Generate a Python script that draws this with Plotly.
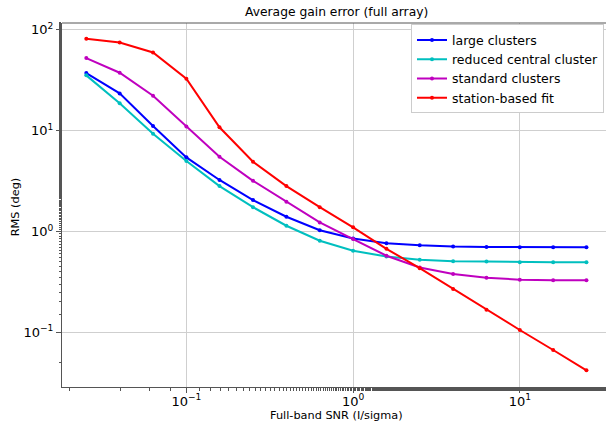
import plotly.graph_objects as go

snr = [0.0251, 0.0398, 0.0631, 0.1, 0.158, 0.251, 0.398, 0.631, 1.0,
       1.585, 2.51, 3.98, 6.31, 10.0, 15.85, 25.1]

large_clusters = [37.2, 23.4, 11.1, 5.43, 3.24, 2.05, 1.40, 1.03, 0.85,
                  0.766, 0.73, 0.71, 0.703, 0.698, 0.698, 0.698]
reduced_central = [35.3, 18.7, 9.3, 4.99, 2.82, 1.74, 1.14, 0.81, 0.643,
                   0.565, 0.524, 0.508, 0.503, 0.496, 0.496, 0.496]
standard_clusters = [52.4, 37.5, 22.2, 11.0, 5.5, 3.18, 1.97, 1.23, 0.84,
                     0.575, 0.44, 0.378, 0.347, 0.333, 0.329, 0.329]
station_fit = [81.5, 74.8, 59.6, 32.7, 10.8, 4.91, 2.82, 1.74, 1.10,
               0.673, 0.433, 0.269, 0.167, 0.1055, 0.0668, 0.042]

x_tickvals = [0.1, 1, 10]
x_ticktext = ["10<sup>−1</sup>", "10<sup>0</sup>", "10<sup>1</sup>"]
y_tickvals = [0.1, 1, 10, 100]
y_ticktext = ["10<sup>−1</sup>", "10<sup>0</sup>", "10<sup>1</sup>", "10<sup>2</sup>"]

series = [
    ("large clusters", large_clusters, "#0000ff"),
    ("reduced central cluster", reduced_central, "#00bfbf"),
    ("standard clusters", standard_clusters, "#bf00bf"),
    ("station-based fit", station_fit, "#ff0000"),
]

FONT = "DejaVu Sans"
W, H = 606, 423
ML, MR, MT, MB = 62, 0, 22.5, 36

fig = go.Figure()
for name, ys, col in series:
    fig.add_trace(go.Scatter(
        x=snr, y=ys, name=name, mode="lines+markers",
        line=dict(color=col, width=2),
        marker=dict(color=col, size=4),
    ))

axis_common = dict(
    type="log", automargin=False,
    showgrid=True, gridcolor="#cfcfcf", gridwidth=1,
    showline=True, linecolor="#555555", linewidth=1,
    ticks="outside", ticklen=5, tickcolor="#555555", tickwidth=1,
    tickfont=dict(family=FONT, size=13, color="#000000"),
    zeroline=False,
    minor=dict(ticks="outside", ticklen=2.5, tickcolor="#555555", showgrid=False),
)

plot_w = W - ML - MR
plot_h = H - MT - MB


def px_x(px):
    return (px - ML) / plot_w


def px_y(py):
    return 1 - (py - MT) / plot_h


fig.update_layout(
    width=W, height=H,
    margin=dict(l=ML, r=MR, t=MT, b=MB),
    plot_bgcolor="white", paper_bgcolor="white",
    font=dict(family=FONT, color="#000000"),
    xaxis=dict(axis_common, range=[-1.746, 1.517],
               tickvals=x_tickvals, ticktext=x_ticktext, ticklabelstandoff=-3),
    yaxis=dict(axis_common, range=[-1.542, 2.067],
               tickvals=y_tickvals, ticktext=y_ticktext),
    legend=dict(x=px_x(604), y=px_y(24), xanchor="right", yanchor="top",
                bgcolor="white", bordercolor="#cccccc", borderwidth=1,
                font=dict(family=FONT, size=12.5)),
    showlegend=True,
    shapes=[dict(type="line", xref="paper", yref="paper", x0=0, x1=1, y0=1, y1=1,
                 line=dict(color="#555555", width=1))],
    annotations=[
        dict(text="Average gain error (full array)", xref="paper", yref="paper",
             x=px_x(336.5), y=px_y(11.5), xanchor="center", yanchor="middle",
             showarrow=False, font=dict(family=FONT, size=12.3)),
        dict(text="Full-band SNR (I/sigma)", xref="paper", yref="paper",
             x=px_x(336.7), y=px_y(415.5), xanchor="center", yanchor="middle",
             showarrow=False, font=dict(family=FONT, size=11.3)),
        dict(text="RMS (deg)", xref="paper", yref="paper",
             x=px_x(15), y=px_y(207), xanchor="center", yanchor="middle",
             textangle=-90, showarrow=False, font=dict(family=FONT, size=11.3)),
    ],
)

fig.write_html(
    "out.html",
    config={"displayModeBar": False},
    post_script="document.body.style.margin='0';document.body.style.overflow='hidden';",
)
